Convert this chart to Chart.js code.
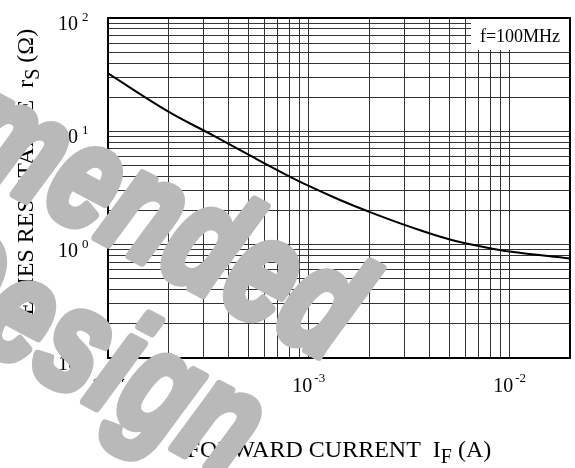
<!DOCTYPE html>
<html>
<head>
<meta charset="utf-8">
<script src="https://cdn.jsdelivr.net/npm/chart.js@4.4.0/dist/chart.umd.min.js"></script>
<style>
  html, body { margin: 0; padding: 0; background: #fff; }
  #wrap { position: relative; width: 575px; height: 468px; }
</style>
</head>
<body>
<div id="wrap"><canvas id="chart"></canvas></div>
<script>
// values (f = 100MHz)
const currentA = [1e-4, 2e-4, 3.3e-4, 5.2e-4, 7.6e-4, 1e-3, 1.43e-3, 2e-3, 3.26e-3, 5.05e-3, 7.55e-3, 1e-2, 2e-2];
const resistanceOhm = [32.5, 14.9, 9.3, 6.0, 4.2, 3.3, 2.48, 1.95, 1.42, 1.11, 0.95, 0.87, 0.755];

const xDecades = [-4, -3, -2];
const yDecades = [-1, 0, 1, 2];
const mantissas = [1, 2, 3, 4, 5, 6, 7, 8, 9];
const xRange = [1e-4, 2e-2];
const yRange = [1e-1, 1e2];

const xTitle = ['FORWARD CURRENT  I', 'F', ' (A)'];
const yTitle = ['SERIES RESISTANCE  r', 'S', ' (Ω)'];
const noteText = 'f=100MHz';
const watermarkLines = ['Not Recommended', 'for New Design'];

const SERIF = '"Liberation Serif", "Times New Roman", serif';

function gridValues(decades, range) {
  const out = [];
  decades.forEach((d) => {
    mantissas.forEach((m) => {
      const v = Number((m * Math.pow(10, d)).toPrecision(6));
      if (v >= range[0] * 0.999 && v <= range[1] * 1.001) out.push(v);
    });
  });
  if (!out.includes(range[1])) out.push(range[1]);
  return out;
}

const xGrid = gridValues(xDecades, xRange);
const yGrid = gridValues(yDecades, yRange);

function drawParts(ctx, parts, x, y, size) {
  const mainFont = `${size}px ${SERIF}`;
  const subFont = `${size - 4}px ${SERIF}`;
  ctx.font = mainFont;
  const w0 = ctx.measureText(parts[0]).width;
  const w2 = ctx.measureText(parts[2]).width;
  ctx.font = subFont;
  const w1 = ctx.measureText(parts[1]).width;
  const sx = x - (w0 + w1 + w2) / 2;
  ctx.textAlign = 'left';
  ctx.textBaseline = 'alphabetic';
  ctx.font = mainFont;
  ctx.fillText(parts[0], sx, y);
  ctx.font = subFont;
  ctx.fillText(parts[1], sx + w0, y + 6);
  ctx.font = mainFont;
  ctx.fillText(parts[2], sx + w0 + w1, y);
}

const decorPlugin = {
  id: 'decor',
  afterDatasetsDraw(chart) {
    const { ctx, chartArea: a, scales: { x, y } } = chart;
    ctx.save();

    // condition note in the corner
    ctx.fillStyle = '#fff';
    ctx.fillRect(a.right - 99, a.top, 99, 32);
    ctx.fillStyle = '#000';
    ctx.font = `18px ${SERIF}`;
    ctx.textAlign = 'center';
    ctx.textBaseline = 'alphabetic';
    ctx.fillText(noteText, a.right - 50, a.top + 24);

    // frame
    ctx.strokeStyle = '#000';
    ctx.lineWidth = 2;
    ctx.strokeRect(a.left, a.top, a.right - a.left, a.bottom - a.top);

    // y tick labels 10^n
    ctx.textAlign = 'left';
    yDecades.forEach((d) => {
      const py = y.getPixelForValue(Math.pow(10, d));
      ctx.font = `20px ${SERIF}`;
      const w = ctx.measureText('10').width;
      ctx.fillText('10', a.left - 50, py + 12);
      ctx.font = `13px ${SERIF}`;
      ctx.fillText(String(d), a.left - 50 + w + 4, py + 3);
    });

    // x tick labels 10^n
    xDecades.forEach((d) => {
      const px = x.getPixelForValue(Math.pow(10, d));
      ctx.font = `20px ${SERIF}`;
      const w = ctx.measureText('10').width;
      ctx.font = `13px ${SERIF}`;
      const ws = ctx.measureText(String(d)).width;
      const sx = px - (w + 2 + ws) / 2;
      ctx.font = `20px ${SERIF}`;
      ctx.fillText('10', sx, a.bottom + 34);
      ctx.font = `13px ${SERIF}`;
      ctx.fillText(String(d), sx + w + 2, a.bottom + 24);
    });

    // axis titles
    drawParts(ctx, xTitle, (a.left + a.right) / 2, 457, 24);
    ctx.translate(33, 179);
    ctx.rotate(-Math.PI / 2);
    drawParts(ctx, yTitle, 0, 0, 24);
    ctx.restore();
  },
  afterDraw(chart) {
    const { ctx } = chart;
    ctx.save();
    ctx.fillStyle = '#b9b9b9';
    ctx.strokeStyle = '#b9b9b9';
    ctx.lineWidth = 9;
    ctx.lineJoin = 'round';
    ctx.font = 'italic bold 148px "Liberation Sans", Arial, sans-serif';
    ctx.textAlign = 'left';
    ctx.textBaseline = 'alphabetic';
    ctx.translate(-50, 160);
    ctx.rotate(28 * Math.PI / 180);
    ctx.scale(0.76, 1);
    const pre1 = ctx.measureText('Not Recom').width;
    ctx.fillText(watermarkLines[0], -pre1, 0);
    ctx.strokeText(watermarkLines[0], -pre1, 0);
    const pre2 = ctx.measureText('for New ').width;
    ctx.fillText(watermarkLines[1], 30 - pre2, 150);
    ctx.strokeText(watermarkLines[1], 30 - pre2, 150);
    ctx.restore();
  }
};

const points = currentA.map((c, i) => ({ x: c, y: resistanceOhm[i] }));

new Chart(document.getElementById('chart'), {
  type: 'line',
  data: {
    datasets: [{
      data: points,
      borderColor: '#000',
      borderWidth: 2,
      pointRadius: 0,
      fill: false,
      tension: 0.4
    }]
  },
  options: {
    responsive: true,
    maintainAspectRatio: false,
    animation: false,
    layout: { padding: { left: 108, top: 18, right: 5, bottom: 110 } },
    plugins: { legend: { display: false }, tooltip: { enabled: false } },
    scales: {
      x: {
        type: 'logarithmic',
        min: xRange[0],
        max: xRange[1],
        afterBuildTicks: (scale) => { scale.ticks = xGrid.map((v) => ({ value: v })); },
        ticks: { display: false, autoSkip: false },
        grid: { color: '#333', lineWidth: 1, drawTicks: false },
        border: { display: false }
      },
      y: {
        type: 'logarithmic',
        min: yRange[0],
        max: yRange[1],
        afterBuildTicks: (scale) => { scale.ticks = yGrid.map((v) => ({ value: v })); },
        ticks: { display: false, autoSkip: false },
        grid: { color: '#333', lineWidth: 1, drawTicks: false },
        border: { display: false }
      }
    }
  },
  plugins: [decorPlugin]
});
</script>
</body>
</html>
